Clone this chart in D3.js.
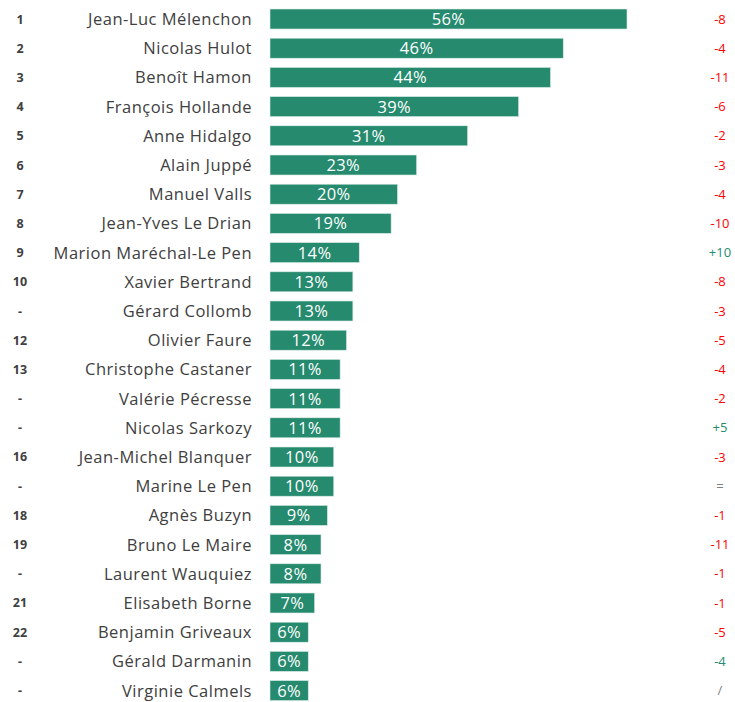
<!DOCTYPE html>
<html>
<head>
<meta charset="utf-8">
<script src="https://cdn.jsdelivr.net/npm/d3@7"></script>
<style>
  body { margin: 0; background: #fff; }
  text { font-family: "Open Sans", Lato, sans-serif; }
</style>
</head>
<body>
<div id="chart"></div>
<script>
var ranks = ["1","2","3","4","5","6","7","8","9","10","-","12","13","-","-","16","-","18","19","-","21","22","-","-"];
var names = ["Jean-Luc Mélenchon","Nicolas Hulot","Benoît Hamon","François Hollande","Anne Hidalgo","Alain Juppé","Manuel Valls","Jean-Yves Le Drian","Marion Maréchal-Le Pen","Xavier Bertrand","Gérard Collomb","Olivier Faure","Christophe Castaner","Valérie Pécresse","Nicolas Sarkozy","Jean-Michel Blanquer","Marine Le Pen","Agnès Buzyn","Bruno Le Maire","Laurent Wauquiez","Elisabeth Borne","Benjamin Griveaux","Gérald Darmanin","Virginie Calmels"];
var values = [56,46,44,39,31,23,20,19,14,13,13,12,11,11,11,10,10,9,8,8,7,6,6,6];
var changes = ["-8","-4","-11","-6","-2","-3","-4","-10","+10","-8","-3","-5","-4","-2","+5","-3","=","-1","-11","-1","-1","-5","-4","/"];
// colour for each change label: red = down, green = up / special
var changeColors = ["r","r","r","r","r","r","r","r","g","r","r","r","r","r","g","r","n","r","r","r","r","r","g","n"];

var width = 735, height = 702;
var green = "#268a6e";

var svg = d3.select("#chart").append("svg")
  .attr("width", width)
  .attr("height", height);

var x = d3.scaleLinear().domain([0, 56]).range([270, 627]);
var y = d3.scaleBand()
  .domain(d3.range(names.length))
  .range([4.4, 4.4 + 29.2 * names.length])
  .paddingInner(0.315)
  .paddingOuter(0.158);

var rows = svg.selectAll(".row")
  .data(names)
  .enter().append("g")
  .attr("class", "row")
  .attr("transform", function(d, i) { return "translate(0," + y(i) + ")"; });

var bh = y.bandwidth();

rows.append("rect")
  .attr("x", x(0))
  .attr("y", 0)
  .attr("width", function(d, i) { return x(values[i]) - x(0); })
  .attr("height", bh)
  .attr("fill", green)
  .attr("stroke", "#d9ece6")
  .attr("stroke-width", 0.6);

rows.append("text")
  .attr("x", function(d, i) { return (x(0) + x(values[i])) / 2; })
  .attr("y", bh / 2)
  .attr("dy", "0.36em")
  .attr("text-anchor", "middle")
  .attr("fill", "#fff")
  .style("font-size", "16.5px")
  .style("letter-spacing", "0.4px")
  .text(function(d, i) { return values[i] + "%"; });

rows.append("text")
  .attr("x", 252)
  .attr("y", bh / 2)
  .attr("dy", "0.36em")
  .attr("text-anchor", "end")
  .attr("fill", "#404040")
  .style("font-size", "16.5px")
  .style("letter-spacing", "0.5px")
  .text(function(d) { return d; });

rows.append("text")
  .attr("x", 20)
  .attr("y", bh / 2)
  .attr("dy", "0.36em")
  .attr("text-anchor", "middle")
  .attr("fill", "#404040")
  .style("font-size", "12.5px")
  .style("font-weight", "bold")
  .text(function(d, i) { return ranks[i]; });

rows.append("text")
  .attr("x", 720)
  .attr("y", bh / 2)
  .attr("dy", "0.36em")
  .attr("text-anchor", "middle")
  .attr("fill", function(d, i) {
    var c = changeColors[i];
    return c == "r" ? "#ff0000" : c == "g" ? green : "#7f7f7f";
  })
  .style("font-size", "13px")
  .text(function(d, i) { return changes[i]; });
</script>
</body>
</html>
